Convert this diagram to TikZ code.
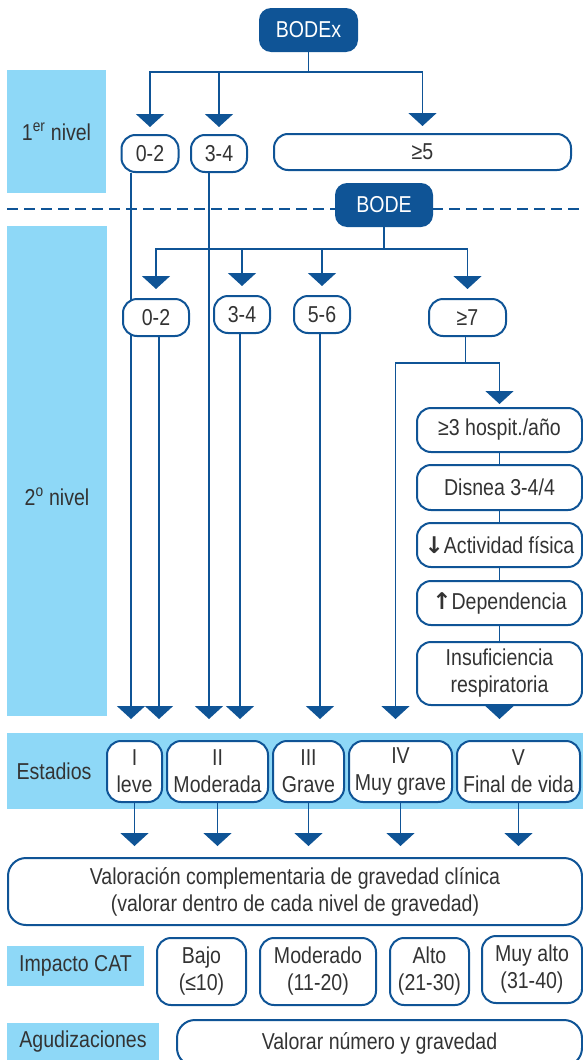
\documentclass[tikz,border=0pt]{standalone}
\usepackage{fontspec}
\setmainfont{Liberation Sans}[FakeStretch=0.85]
\newfontfamily\arrowfont{DejaVu Sans Bold}
\usetikzlibrary{arrows.meta}
\definecolor{bodeblue}{HTML}{0F5496}
\definecolor{nivelblue}{HTML}{8ED8F7}
\definecolor{txtgray}{HTML}{333333}

\begin{document}
\begin{tikzpicture}[x=1pt,y=-1pt,
  font=\fontsize{23}{27}\selectfont, text=txtgray,
  hdr/.style={fill=bodeblue, text=white, rounded corners=12pt, inner sep=0pt},
  opt/.style={draw=bodeblue, line width=2pt, fill=white, rounded corners=14pt, inner sep=0pt, align=center},
  lbl/.style={fill=nivelblue, inner sep=0pt, align=center},
  conn/.style={draw=bodeblue, line width=1.8pt},
  arr/.style={-{Triangle[width=28pt,length=13pt]}}]
\useasboundingbox (0,0) rectangle (583,1060);

% side labels and stages band
\node[lbl, minimum width=99pt, minimum height=123pt] (niv1) at (56.5,131.5) {1\textsuperscript{er} nivel};
\node[lbl, minimum width=100pt, minimum height=490pt, anchor=north] (niv2) at (57,226) {};
\node (niv2t) at (57,497) {2\textsuperscript{o} nivel};
\node[lbl, minimum width=576pt, minimum height=76pt] (band) at (295,771) {};
\node (estad) at (54,771) {Estadios};

\node[opt, minimum width=55pt, minimum height=61pt] (s1) at (134.5,771.5) {I\\leve};
\node[opt, minimum width=101pt, minimum height=61pt] (s2) at (217.5,771.5) {II\\Moderada};
\node[opt, minimum width=71pt, minimum height=61pt] (s3) at (308.5,771.5) {III\\Grave};
\node[opt, minimum width=103pt, minimum height=61pt] (s4) at (400.5,771.5) {IV\\Muy grave};
\node[opt, minimum width=123pt, minimum height=61pt] (s5) at (518.5,771.5) {V\\Final de vida};

% first level
\node[hdr, minimum width=99pt, minimum height=44pt] (bodex) at (308.5,30) {BODEx};
\node[opt, minimum width=57pt, minimum height=37pt] (a02) at (150,153.5) {0-2};
\node[opt, minimum width=56pt, minimum height=37pt] (a34) at (219,153.5) {3-4};
\node[opt, minimum width=297pt, minimum height=36pt] (a5) at (422.5,152) {≥5};
\foreach \n in {a02,a34,a5}
  \draw[conn,arr,shorten >=7pt] (bodex.south) -- ++(0,20) -| (\n.north);
\draw[conn,arr,shorten >=21pt] ([xshift=-19pt]a02.south) -- ([xshift=-19pt]a02.south |- s1.north);
\draw[conn,arr,shorten >=21pt] ([xshift=-10pt]a34.south) -- ([xshift=-10pt]a34.south |- s2.north);

% second level
\draw[bodeblue, line width=2.4pt, dash pattern=on 11pt off 6pt] (7,209) -- (583,209);
\node[hdr, minimum width=98pt, minimum height=44pt] (bode) at (384,205) {BODE};
\node[opt, minimum width=66pt, minimum height=37pt] (b02) at (156,317.5) {0-2};
\node[opt, minimum width=56pt, minimum height=37pt] (b34) at (242,314.5) {3-4};
\node[opt, minimum width=56pt, minimum height=37pt] (b56) at (322,314.5) {5-6};
\node[opt, minimum width=77pt, minimum height=37pt] (b7) at (467.5,317.5) {≥7};
\foreach \n in {b02,b34,b56,b7}
  \draw[conn,arr,shorten >=9pt] (bode.south) -- ++(0,22) -| (\n.north);
\draw[conn,arr,shorten >=21pt] ([xshift=3pt]b02.south) -- ([xshift=3pt]b02.south |- s1.north);
\draw[conn,arr,shorten >=21pt] ([xshift=-2pt]b34.south) -- ([xshift=-2pt]b34.south |- s2.north);
\draw[conn,arr,shorten >=21pt] ([xshift=-2pt]b56.south) -- ([xshift=-2pt]b56.south |- s3.north);

% criteria for >=7
\node[opt, minimum width=165pt, minimum height=44pt] (c1) at (499.5,430) {≥3 hospit./año};
\node[opt, minimum width=165pt, minimum height=45pt] (c2) at (499.5,487.5) {Disnea 3-4/4};
\node[opt, minimum width=165pt, minimum height=44pt] (c3) at (499.5,545) {{\arrowfont ↓}Actividad física};
\node[opt, minimum width=165pt, minimum height=44pt] (c4) at (499.5,603) {{\arrowfont ↑}Dependencia};
\node[opt, minimum width=165pt, minimum height=63pt] (c5) at (499.5,673.5) {Insuficiencia\\respiratoria};
\draw[conn] ([xshift=-2pt]b7.south) -- ++(0,26) coordinate (j7);
\draw[conn,arr,shorten >=21pt] (j7) -| ([xshift=-5pt]s4.north);
\draw[conn,arr,shorten >=3pt] (j7) -| (c1.north);
\draw[conn] (c1) -- (c2);
\draw[conn] (c2) -- (c3);
\draw[conn] (c3) -- (c4);
\draw[conn] (c4) -- (c5);
\draw[conn,arr,shorten >=21pt] (c5.south) -- (c5.south |- s5.north);

% complementary assessment
\node[opt, minimum width=574pt, minimum height=67pt, rounded corners=18pt] (val) at (295,891.5)
  {Valoración complementaria de gravedad clínica\\(valorar dentro de cada nivel de gravedad)};
\foreach \n in {s1,s2,s3,s4,s5}
  \draw[conn,arr,shorten >=11pt] (\n.south) -- (\n.south |- val.north);

\node[lbl, minimum width=137pt, minimum height=40pt] (cat) at (75.5,966) {Impacto CAT};
\node[opt, minimum width=89pt, minimum height=67pt] (bajo) at (201.5,971.5) {Bajo\\(≤10)};
\node[opt, minimum width=116pt, minimum height=67pt] (moder) at (318,971.5) {Moderado\\(11-20)};
\node[opt, minimum width=79pt, minimum height=67pt] (alto) at (429.5,971.5) {Alto\\(21-30)};
\node[opt, minimum width=100pt, minimum height=67pt] (muyalto) at (532,969.5) {Muy alto\\(31-40)};

\node[lbl, minimum width=152pt, minimum height=37pt, anchor=north] (agud) at (83,1023) {Agudizaciones};
\node[opt, minimum width=405pt, minimum height=46pt, rounded corners=18pt] (valnum) at (379.5,1043) {Valorar número y gravedad};
\end{tikzpicture}
\end{document}
